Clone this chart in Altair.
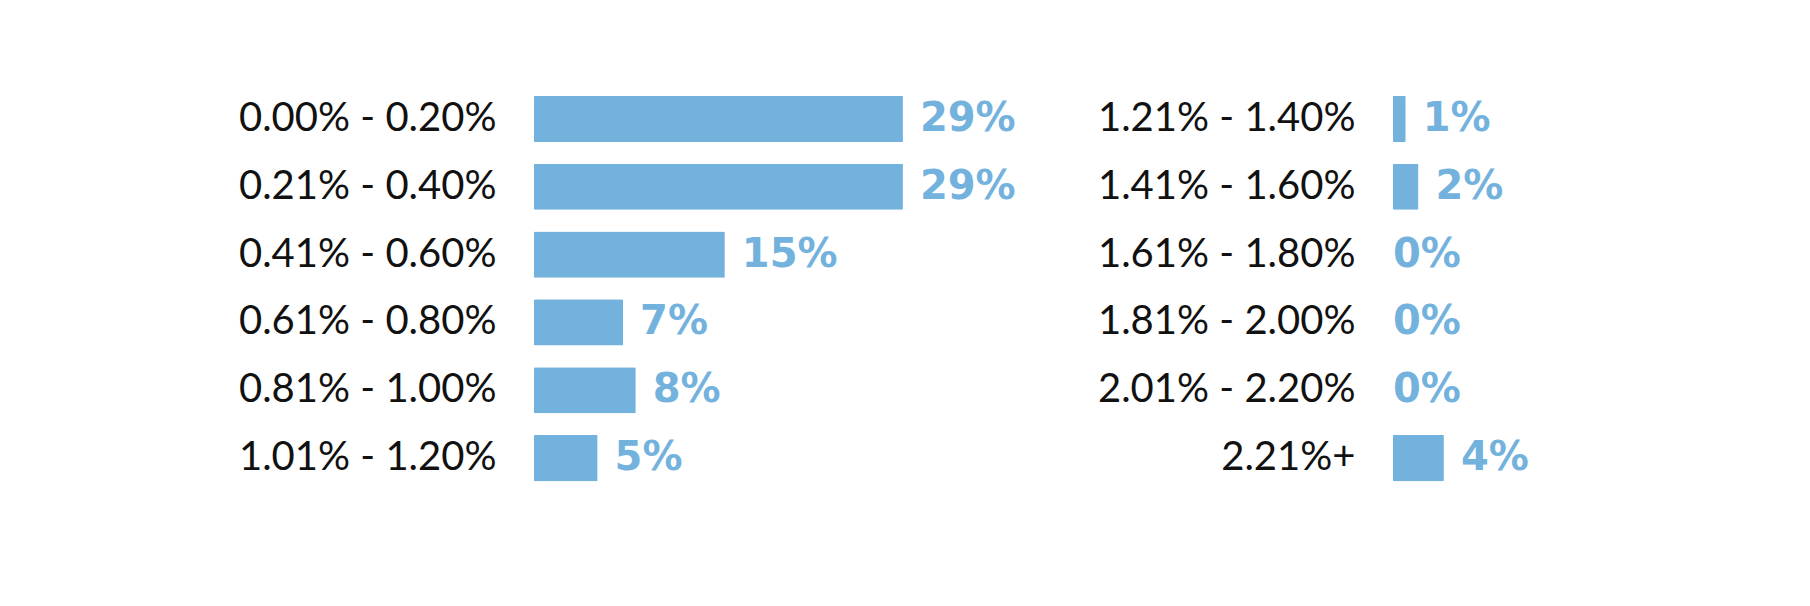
import altair as alt
import pandas as pd

left_cats = ["0.00% - 0.20%", "0.21% - 0.40%", "0.41% - 0.60%",
             "0.61% - 0.80%", "0.81% - 1.00%", "1.01% - 1.20%"]
left_vals = [29, 29, 15, 7, 8, 5]
right_cats = ["1.21% - 1.40%", "1.41% - 1.60%", "1.61% - 1.80%",
              "1.81% - 2.00%", "2.01% - 2.20%", "2.21%+"]
right_vals = [1, 2, 0, 0, 0, 4]

BLUE = "#74b2de"
LABEL_FONT = "Lato"
VAL_FONT = "DejaVu Sans"


def panel(cats, vals, width, xmax, extent):
    df = pd.DataFrame({"cat": cats, "val": vals,
                       "lab": [f"{v}%" for v in vals]})
    y = alt.Y("cat:N", sort=cats, title=None,
              scale=alt.Scale(paddingInner=0.32, paddingOuter=0.16),
              axis=alt.Axis(domain=False, ticks=False, grid=False,
                            labelFont=LABEL_FONT, labelFontSize=40,
                            labelColor="#111111", labelPadding=38,
                            labelLimit=600,
                            minExtent=extent, maxExtent=extent))
    x = alt.X("val:Q", axis=None,
              scale=alt.Scale(domain=[0, xmax], nice=False, zero=True))
    base = alt.Chart(df)
    bars = base.mark_bar(color=BLUE, cornerRadius=1).encode(x=x, y=y)
    txt_pos = base.transform_filter("datum.val > 0").mark_text(
        align="left", baseline="middle", dx=17, font=VAL_FONT,
        fontWeight="bold", fontSize=40, color=BLUE).encode(x=x, y=y, text="lab:N")
    txt_zero = base.transform_filter("datum.val == 0").mark_text(
        align="left", baseline="middle", dx=0, font=VAL_FONT,
        fontWeight="bold", fontSize=40, color=BLUE).encode(x=x, y=y, text="lab:N")
    return alt.layer(bars, txt_pos, txt_zero).properties(width=width, height=407)


left = panel(left_cats, left_vals, 500, 39.3, 521)
right = panel(right_cats, right_vals, 250, 19.65, 359)

chart = alt.hconcat(left, right, spacing=0).properties(
    padding={"left": 5, "top": 77, "right": 5, "bottom": 5},
    background="white"
).configure_view(stroke="transparent", strokeWidth=0)

chart.save("out.html", embed_options={"renderer": "svg", "actions": False})
